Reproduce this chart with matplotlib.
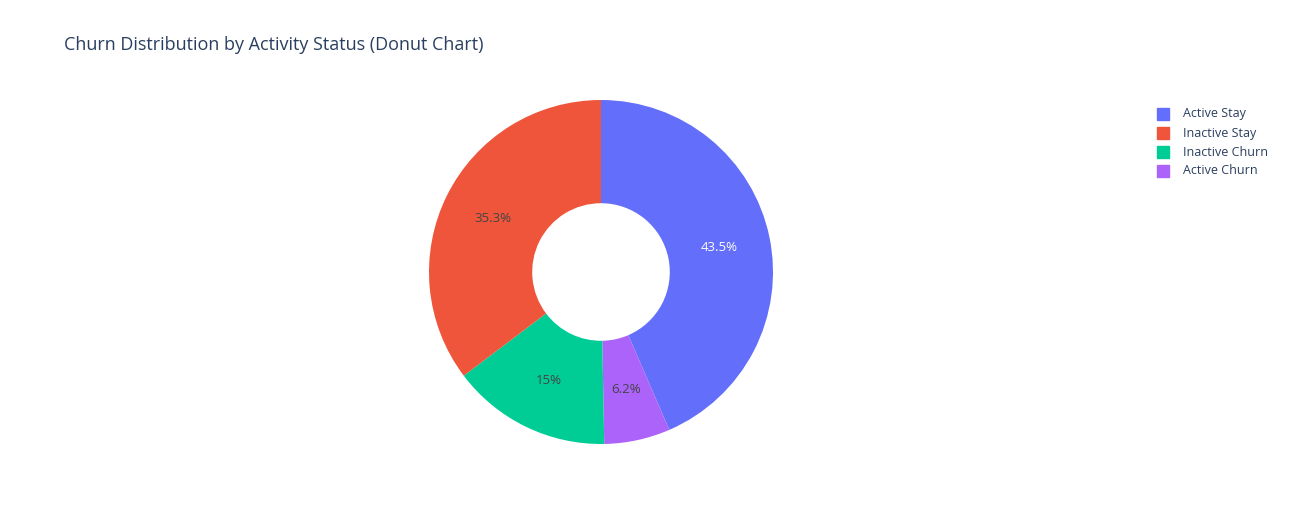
import matplotlib
matplotlib.use("Agg")
import matplotlib.pyplot as plt

labels = ["Active Stay", "Active Churn", "Inactive Churn", "Inactive Stay"]
values = [43.5, 6.2, 15.0, 35.3]
pct_text = ["43.5%", "6.2%", "15%", "35.3%"]
colors = ["#636efa", "#ab63fa", "#00cc96", "#ef553b"]
text_colors = ["white", "#444444", "#444444", "#444444"]
legend_order = ["Active Stay", "Inactive Stay", "Inactive Churn", "Active Churn"]

plt.rcParams['font.family'] = ['Open Sans', 'DejaVu Sans']
W, H = 1290, 525
fig = plt.figure(figsize=(W/100, H/100), dpi=100)
cx, cy, r = 601, 272, 172
ax = fig.add_axes([(cx-r)/W, (H-cy-r)/H, 2*r/W, 2*r/H])
wedges, texts, autotexts = ax.pie(values, colors=colors, startangle=90, counterclock=False,
       wedgeprops=dict(width=1-0.4, edgecolor="white", linewidth=0),
       autopct=lambda p: "", pctdistance=0.7)
for at, t, c in zip(autotexts, pct_text, text_colors):
    at.set_text(t); at.set_color(c); at.set_fontsize(9.5)
ax.set_xlim(-1, 1); ax.set_ylim(-1, 1)
ax.set_aspect("equal")
ax.axis("off")

fig.text(64/W, 1-45/H, "Churn Distribution by Activity Status (Donut Chart)",
         fontsize=13, color="#2a3f5f", va="center", ha="left")
for i, name in enumerate(legend_order):
    y = 114 + 19*i
    c = colors[labels.index(name)]
    fig.patches.append(plt.Rectangle(((1157)/W, 1-(y+6)/H), 12/W, 12/H,
                                     transform=fig.transFigure, color=c))
    fig.text(1183/W, 1-y/H, name, fontsize=9, color="#2a3f5f", va="center", ha="left")

fig.savefig("out.png", dpi=100, facecolor="white")
